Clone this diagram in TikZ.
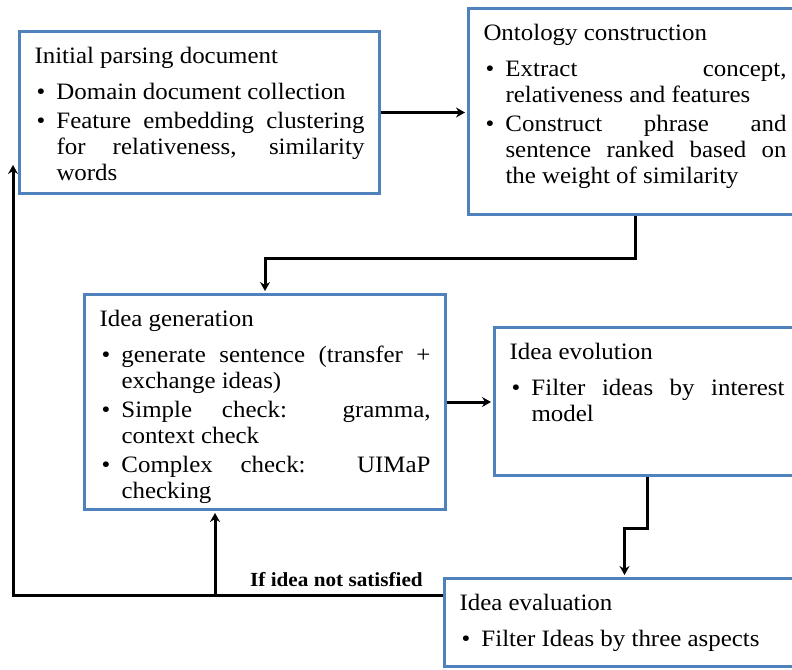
\documentclass[tikz,border=0pt]{standalone}
\usepackage{fontspec}
\setmainfont{Liberation Serif}[FakeStretch=1.06]
\usepackage{xcolor}
\usetikzlibrary{arrows.meta,shadows}

\definecolor{boxblu}{RGB}{79,129,189}

% niente sillabazione, righe giustificate anche se larghe
\hyphenpenalty=10000
\exhyphenpenalty=10000
\tolerance=9999

% voce puntata con rientro sospeso
\newcommand{\voce}[1]{\par\vspace{3pt}\hangindent=22pt\hangafter=1\noindent\makebox[22pt][l]{\hspace{2pt}\textbullet}#1}
% contenuto di un blocco: altezza, larghezza, titolo, voci
\newcommand{\blocco}[4]{\begin{minipage}[t][#1][t]{#2}\rule{0pt}{32pt}#3\par\vspace{7pt}#4\end{minipage}}

\tikzset{
  fase/.style={draw=boxblu, line width=3pt, fill=white, anchor=north west,
    inner xsep=15pt, inner ysep=0pt, font=\fontsize{23.5}{26}\selectfont,
    drop shadow={shadow xshift=1pt, shadow yshift=-1.5pt, fill=black!50}},
  freccia/.style={line width=3pt, -{Stealth[length=9pt,width=10pt,inset=3pt]}}
}

\begin{document}
\begin{tikzpicture}[x=1pt,y=-1pt]
        \useasboundingbox (0,0) rectangle (792,669);
        \clip (0,0) rectangle (792,669);
        \fill[white] (0,0) rectangle (792,669);

        % Blocchi
        \node[fase] (parse) at (18,30) {\blocco{162pt}{330pt}{Initial parsing document}{%
            \voce{Domain document collection}%
            \voce{Feature embedding clustering for relativeness, similarity words}}};
        \node[fase] (onto) at (467,7) {\blocco{206pt}{303pt}{Ontology construction}{%
            \voce{Extract concept, relativeness and features}%
            \voce{Construct phrase and sentence ranked based on the weight of similarity}}};
        \node[fase] (gen) at (83,293) {\blocco{215pt}{331pt}{Idea generation}{%
            \voce{generate sentence (transfer + exchange ideas)}%
            \voce{Simple check: gramma, context check}%
            \voce{Complex check: UIMaP checking}}};
        \node[fase] (evo) at (493,326) {\blocco{148pt}{275pt}{Idea evolution}{%
            \voce{Filter ideas by interest model}}};
        \node[fase] (eval) at (443,577) {\blocco{88pt}{330pt}{Idea evaluation}{%
            \voce{Filter Ideas by three aspects}}};

        % Frecce in avanti
        \draw[freccia] (parse.east) -- ([xshift=-2pt]parse.east -| onto.west);
        \draw[freccia] (onto.south) -- ++(0,42) -| ([yshift=2pt]gen.north);
        \draw[freccia] (gen.east) -- ([xshift=-2pt]gen.east -| evo.west);
        \draw[freccia] (evo.south) -- ++(0,51) -| ([yshift=2pt]eval.north);

        % Ritorno se l'idea non va bene
        \coordinate (ritorno) at (13,165);
        \coordinate (ramo) at (215,595);
        \draw[freccia] ([yshift=-18pt]eval.north west) -| (ritorno);
        \draw[freccia] (ramo) -- ([yshift=-2pt]ramo |- gen.south);
        \node[anchor=base west, inner sep=0pt, font=\fontsize{20}{22}\selectfont\bfseries] (nota) at (250,586) {If idea not satisfied};
    \end{tikzpicture}
\end{document}
